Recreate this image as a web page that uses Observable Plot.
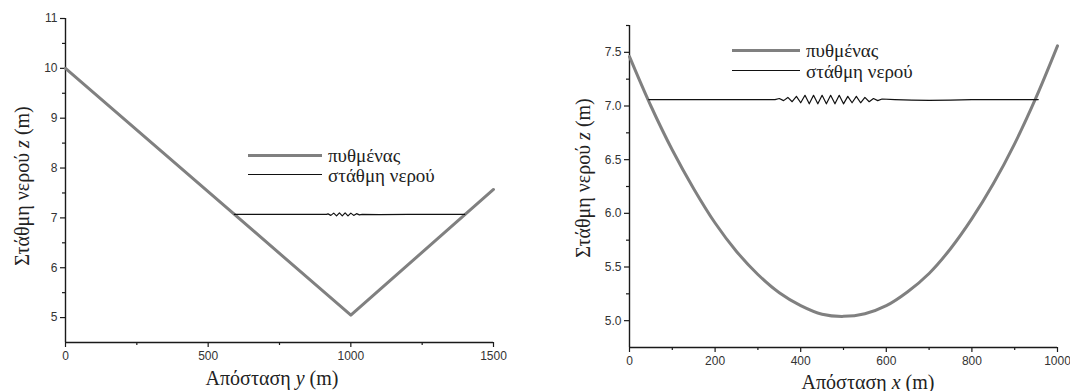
<!DOCTYPE html>
<html>
<head>
<meta charset="utf-8">
<script src="https://cdn.jsdelivr.net/npm/d3@7"></script>
<script src="https://cdn.jsdelivr.net/npm/@observablehq/plot@0.6"></script>
<style>
  html, body { margin: 0; padding: 0; background: #fff; }
  #fig { position: relative; width: 1070px; height: 391px; overflow: hidden; background: #fff; }
  .panel { position: absolute; top: 0; }
  .lbl, .leg, .leg span { font-family: "Liberation Serif", "Times New Roman", "DejaVu Serif", serif; }
  .lbl { position: absolute; white-space: nowrap; font-size: 20px; color: #222; line-height: 1; }
  .leg { position: absolute; display: flex; align-items: center; font-size: 19px; color: #222; line-height: 1; white-space: nowrap; }
</style>
</head>
<body>
<div id="fig"></div>
<script>
// ---------- Data ----------
// Left panel: V-shaped channel, distance y (m)
const leftBedX = [0, 1000, 1500];
const leftBedZ = [10.0, 5.05, 7.57];
const leftWaterX = [592, 700, 800, 900, 915, 920, 930, 940, 950, 960, 970, 980, 990, 1000, 1010, 1020, 1030, 1040, 1100, 1200, 1300, 1399];
const leftWaterZ = [7.07, 7.07, 7.07, 7.07, 7.07, 7.08, 7.05, 7.095, 7.04, 7.10, 7.04, 7.10, 7.04, 7.095, 7.05, 7.085, 7.06, 7.07, 7.065, 7.07, 7.07, 7.07];

// Right panel: parabolic channel, distance x (m)
const rightBedX = [0, 50, 100, 150, 200, 250, 300, 350, 400, 450, 500, 550, 600, 650, 700, 750, 800, 850, 900, 950, 1000];
const rightBedZ = [7.46, 7.00, 6.59, 6.23, 5.91, 5.645, 5.43, 5.26, 5.14, 5.06, 5.04, 5.065, 5.14, 5.27, 5.44, 5.67, 5.95, 6.275, 6.65, 7.08, 7.56];
const rightWaterX = [45, 100, 200, 300, 340, 350, 360, 370, 380, 390, 400, 410, 420, 430, 440, 450, 460, 470, 480, 490, 500, 510, 520, 530, 540, 550, 560, 570, 580, 590, 620, 660, 700, 750, 800, 900, 955];
const rightWaterZ = [7.06, 7.06, 7.06, 7.06, 7.06, 7.07, 7.05, 7.08, 7.04, 7.09, 7.03, 7.10, 7.02, 7.10, 7.02, 7.10, 7.02, 7.10, 7.02, 7.10, 7.02, 7.09, 7.03, 7.09, 7.03, 7.08, 7.04, 7.07, 7.05, 7.065, 7.06, 7.055, 7.052, 7.055, 7.06, 7.06, 7.06];

// Axis ticks
const leftXTicks = [0, 500, 1000, 1500];
const leftXMinor = [250, 750, 1250];
const leftYTicks = [5, 6, 7, 8, 9, 10, 11];
const leftYMinor = [5.5, 6.5, 7.5, 8.5, 9.5, 10.5];
const rightXTicks = [0, 200, 400, 600, 800, 1000];
const rightXMinor = [100, 300, 500, 700, 900];
const rightYTicks = [5.0, 5.5, 6.0, 6.5, 7.0, 7.5];
const rightYMinor = [5.25, 5.75, 6.25, 6.75, 7.25, 7.75];

const seriesNames = ["πυθμένας", "στάθμη νερού"];

// ---------- Helpers ----------
const rows = (xs, zs) => xs.map((x, i) => ({x, z: zs[i]}));
const axisColor = "#1a1a1a";

function panel({width, height, mL, mR, mT, mB, xDom, yDom, xT, xM, yT, yM, yFmt, bed, water, bedCurve}) {
  return Plot.plot({
    width, height,
    marginLeft: mL, marginRight: mR, marginTop: mT, marginBottom: mB,
    style: {fontFamily: "Liberation Sans, Arial, sans-serif", fontSize: "12px", color: "#333", background: "transparent", overflow: "visible"},
    x: {domain: xDom, label: null},
    y: {domain: yDom, label: null},
    marks: [
      Plot.axisX({ticks: xT, tickSize: 5, tickPadding: 4, stroke: axisColor, strokeWidth: 1.2, tickFormat: d => String(d), fill: "#333"}),
      Plot.axisX({ticks: xM, tickSize: 3, text: null, stroke: axisColor, strokeWidth: 1.2}),
      Plot.axisY({ticks: yT, tickSize: 5, tickPadding: 3, stroke: axisColor, strokeWidth: 1.2, tickFormat: yFmt, fill: "#333"}),
      Plot.axisY({ticks: yM, tickSize: 3, text: null, stroke: axisColor, strokeWidth: 1.2}),
      Plot.ruleY([yDom[0]], {stroke: axisColor, strokeWidth: 1.4}),
      Plot.ruleX([xDom[0]], {stroke: axisColor, strokeWidth: 1.4}),
      Plot.line(bed, {x: "x", y: "z", stroke: "#808080", strokeWidth: 3, curve: bedCurve}),
      Plot.line(water, {x: "x", y: "z", stroke: "#111", strokeWidth: 1.2})
    ]
  });
}

const fig = document.getElementById("fig");

const left = panel({
  width: 520, height: 391, mL: 65, mR: 27, mT: 18, mB: 49,
  xDom: [0, 1500], yDom: [4.5, 11],
  xT: leftXTicks, xM: leftXMinor, yT: leftYTicks, yM: leftYMinor,
  yFmt: d => String(d),
  bed: rows(leftBedX, leftBedZ), water: rows(leftWaterX, leftWaterZ), bedCurve: "linear"
});
left.classList.add("panel");
left.style.left = "0px";
fig.appendChild(left);

const right = panel({
  width: 510, height: 391, mL: 69, mR: 13, mT: 25, mB: 44,
  xDom: [0, 1000], yDom: [4.75, 7.75],
  xT: rightXTicks, xM: rightXMinor, yT: rightYTicks, yM: rightYMinor,
  yFmt: d3.format(".1f"),
  bed: rows(rightBedX, rightBedZ), water: rows(rightWaterX, rightWaterZ), bedCurve: "catmull-rom"
});
right.classList.add("panel");
right.style.left = "560px";
fig.appendChild(right);

// ---------- Axis titles ----------
function label(html, cx, cy, rotate) {
  const d = document.createElement("div");
  d.className = "lbl";
  d.innerHTML = html;
  d.style.left = cx + "px";
  d.style.top = cy + "px";
  d.style.transform = "translate(-50%,-50%)" + (rotate ? " rotate(-90deg)" : "");
  fig.appendChild(d);
}
label("Στάθμη νερού <i>z</i> (m)", 21.7, 185.5, true);
label("Απόσταση <i>y</i> (m)", 272, 378, false);
label("Στάθμη νερού <i>z</i> (m)", 583, 177.5, true);
label("Απόσταση <i>x</i> (m)", 868, 381.5, false);

// ---------- Legends ----------
function legend(x, y, lineLen, gap, rowGap) {
  const styles = [{c: "#808080", w: 3}, {c: "#111", w: 1.2}];
  seriesNames.forEach((name, i) => {
    const d = document.createElement("div");
    d.className = "leg";
    d.style.left = x + "px";
    d.style.top = (y + i * rowGap) + "px";
    d.style.transform = "translateY(-50%)";
    d.innerHTML = `<svg width="${lineLen}" height="6" style="margin-right:${gap}px"><line x1="0" x2="${lineLen}" y1="3" y2="3" stroke="${styles[i].c}" stroke-width="${styles[i].w}"/></svg><span>${name}</span>`;
    fig.appendChild(d);
  });
}
legend(248, 155, 74, 6, 19.5);
legend(732, 50, 68, 6, 20.7);
</script>
</body>
</html>
